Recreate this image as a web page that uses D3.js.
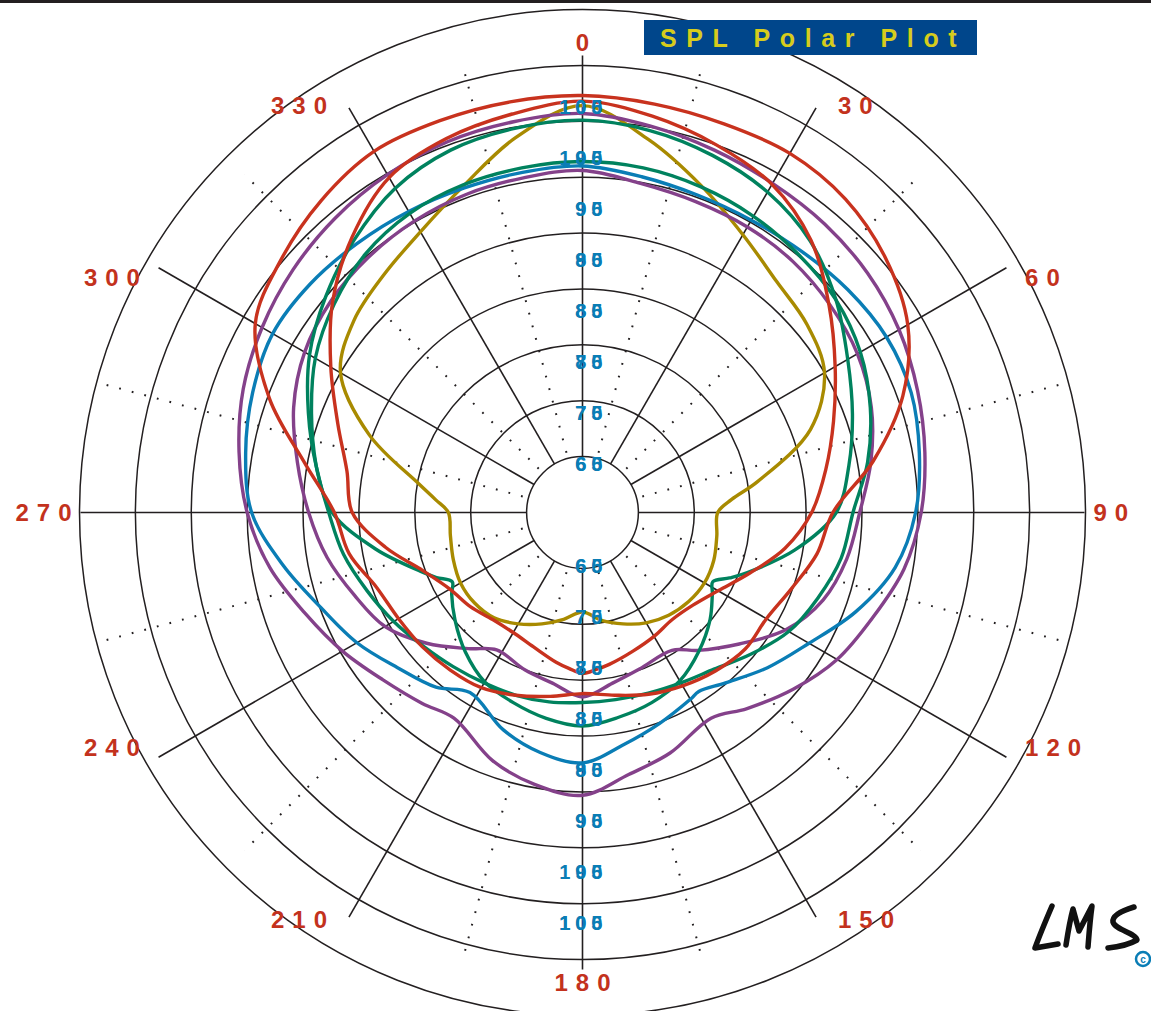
<!DOCTYPE html>
<html>
<head>
<meta charset="utf-8">
<script src="https://cdn.jsdelivr.net/npm/d3@7"></script>
<style>
  body { margin: 0; background: #fff; }
  svg { display: block; font-family: "Liberation Sans", Arial, sans-serif; }
</style>
</head>
<body>
<div id="chart"></div>
<script>
// Angle labels (degrees, clockwise from top)
const angleTicks = [0, 30, 60, 90, 120, 150, 180, 210, 240, 270, 300, 330];
// Dotted spokes between the labelled ones
const minorAngles = [15, 45, 75, 105, 135, 165, 195, 225, 255, 285, 315, 345];
// Ring levels (dB)
const ringLevels = [60, 65, 70, 75, 80, 85, 90, 95, 100];
// Ring labels, two overlapping sets as printed
const ringLabelsA = ['60', '70', '75', '80', '85', '90', '100', '105'];
const ringLabelsB = ['65', '75', '80', '85', '90', '95', '95', '100'];

// Series: [angle, SPL dB]
const gold = [[0,91.4],[10,88.9],[20,86.1],[30,83.7],[40,82.0],[50,81.2],[60,80.0],[70,76.7],[80,70.9],[85,68.4],[90,67.1],
  [100,67.2],[110,67.5],[120,67.6],[130,67.4],[140,67.0],[150,66.4],[160,65.6],[170,64.8],[180,63.9],[190,64.7],
  [200,65.6],[210,66.5],[220,67.3],[230,67.6],[240,67.6],[250,67.3],[260,67.0],[270,67.0],[275,68.2],[280,69.9],
  [290,75.3],[300,80.0],[310,81.7],[320,82.7],[330,84.0],[340,86.1],[350,89.1]];
const redA = [[0,92.3],[10,92.1],[20,92.0],[30,92.1],[40,91.6],[50,90.4],[60,88.6],[70,85.5],[80,81.4],[90,77.4],
  [100,76.3],[110,74.9],[120,74.0],[130,74.0],[140,73.5],[150,72.9],[160,72.3],[170,71.6],[180,71.2],[190,71.7],
  [200,72.4],[210,73.1],[220,73.4],[230,73.7],[240,74.0],[250,74.6],[260,76.2],[270,77.2],[280,80.2],[290,84.8],
  [300,88.8],[310,90.2],[320,91.4],[330,92.3],[340,92.3],[350,92.3]];
const redB = [[0,91.8],[10,91.0],[20,90.0],[30,88.9],[40,86.8],[50,83.8],[60,81.1],[70,78.9],[80,77.1],[90,75.5],
  [100,73.4],[110,70.9],[120,69.0],[130,67.9],[140,67.5],[150,67.8],[160,68.2],[170,68.8],[175,69.1],[180,69.4],
  [185,69.0],[190,68.6],[200,67.8],[210,67.4],[220,67.5],[230,68.1],[240,68.7],[250,70.2],[260,72.9],[270,75.6],
  [280,76.4],[290,78.3],[300,81.0],[310,84.2],[320,87.1],[330,89.6],[340,90.6],[350,91.2]];
const greenA = [[0,90.1],[10,89.7],[20,89.0],[30,88.1],[40,86.7],[50,84.6],[60,82.4],[70,80.7],[80,79.2],[90,77.7],
  [100,74.3],[110,70.7],[114,69.4],[118,68.2],[122,68.7],[130,69.9],[140,71.2],[150,72.4],[160,73.1],[170,73.6],
  [180,74.1],[190,73.7],[200,73.1],[210,72.5],[220,71.3],[230,69.9],[238,68.8],[242,68.2],[246,69.3],[250,70.4],
  [260,73.8],[270,77.4],[280,79.2],[290,81.1],[300,83.2],[310,85.0],[320,86.8],[330,88.5],[340,89.5],[350,89.9]];
const greenB = [[0,86.4],[10,86.3],[20,86.0],[30,85.6],[40,85.1],[50,84.6],[60,83.7],[70,82.4],[80,80.9],[90,79.2],
  [100,78.5],[110,77.4],[120,76.3],[130,74.7],[140,73.3],[150,72.6],[160,72.2],[170,72.0],[180,72.0],[190,72.2],
  [200,72.4],[210,72.6],[220,73.0],[230,73.6],[240,74.5],[250,75.5],[260,76.7],[270,77.7],[280,79.2],[290,80.8],
  [300,82.6],[310,84.0],[320,85.2],[330,85.9],[340,86.2],[350,86.3]];
const blue = [[0,86.0],[10,85.5],[20,85.2],[30,85.2],[40,85.5],[50,86.0],[60,86.4],[70,86.3],[80,85.6],[90,84.8],
  [100,83.4],[110,81.0],[120,78.4],[130,76.6],[140,74.9],[147,74.1],[150,74.3],[160,75.1],[170,76.1],[180,77.4],
  [190,76.8],[200,75.7],[212,74.0],[220,75.4],[230,76.6],[240,78.3],[250,79.9],[260,82.2],[270,84.6],[280,85.6],
  [290,86.4],[300,87.0],[310,86.8],[320,86.4],[330,86.1],[340,85.9],[350,85.9]];
const purpleA = [[0,90.7],[10,90.1],[20,89.5],[30,89.0],[40,88.7],[50,88.3],[60,87.7],[70,86.9],[80,86.1],[90,85.3],
  [100,84.2],[110,82.6],[120,81.3],[130,79.6],[140,77.9],[148,76.7],[160,77.9],[170,78.8],[180,80.3],[190,79.7],
  [200,78.6],[212,76.7],[220,77.3],[230,78.3],[240,79.8],[250,81.4],[260,83.4],[270,85.0],[280,86.2],[290,87.3],
  [300,88.1],[310,88.8],[320,89.4],[330,89.9],[340,90.3],[350,90.5]];
const purpleB = [[0,85.6],[10,84.9],[20,84.6],[30,84.5],[40,84.3],[50,83.9],[60,83.4],[70,82.5],[80,81.2],[90,79.8],
  [100,79.0],[110,77.9],[120,76.0],[130,73.3],[140,71.1],[147,69.7],[160,69.9],[170,70.5],[180,71.5],[190,70.5],
  [200,70.0],[212,69.5],[220,70.9],[230,73.2],[240,75.4],[250,76.7],[260,78.2],[270,79.5],[280,80.9],[290,82.5],
  [300,83.7],[310,84.4],[320,84.8],[330,85.1],[340,85.3],[350,85.4]];

// Drawing order and colours
const seriesList = [
  { data: gold, color: '#a88a00' },
  { data: purpleB, color: '#84418a' },
  { data: blue, color: '#0a7db5' },
  { data: greenB, color: '#00825e' },
  { data: greenA, color: '#00825e' },
  { data: purpleA, color: '#84418a' },
  { data: redB, color: '#c8321e' },
  { data: redA, color: '#c8321e' }
];

const W = 1151, H = 1011;
const cx = 582.5, cy = 512.5;
const gridColor = '#231f20';
// spokes end on an ellipse, as in the original
const spokeRx = 502, spokeRy = 457;

const svg = d3.select('#chart').append('svg')
  .attr('width', W).attr('height', H);

svg.append('rect').attr('width', W).attr('height', H).attr('fill', '#fff');
svg.append('rect').attr('width', W).attr('height', 3).attr('fill', gridColor);

const g = svg.append('g').attr('transform', `translate(${cx},${cy})`);

const r = d3.scaleLinear().domain([55, 100]).range([0, 503]);
const rad = a => a * Math.PI / 180;

// distance to the ellipse along an angle
function spokeEnd(a) {
  const s = Math.sin(rad(a)), c = Math.cos(rad(a));
  return 1 / Math.sqrt((s / spokeRx) ** 2 + (c / spokeRy) ** 2);
}

// Rings
g.selectAll('circle.ring').data(ringLevels).enter().append('circle')
  .attr('class', 'ring')
  .attr('r', d => r(d))
  .attr('fill', 'none')
  .attr('stroke', gridColor)
  .attr('stroke-width', 1.5);

// Solid spokes
g.selectAll('line.spoke').data(angleTicks).enter().append('line')
  .attr('x1', d => r(60) * Math.sin(rad(d)))
  .attr('y1', d => -r(60) * Math.cos(rad(d)))
  .attr('x2', d => spokeEnd(d) * Math.sin(rad(d)))
  .attr('y2', d => -spokeEnd(d) * Math.cos(rad(d)))
  .attr('stroke', gridColor)
  .attr('stroke-width', 1.6);

// Dotted spokes
g.selectAll('line.minor').data(minorAngles).enter().append('line')
  .attr('x1', d => (r(60) + 6) * Math.sin(rad(d)))
  .attr('y1', d => -(r(60) + 6) * Math.cos(rad(d)))
  .attr('x2', d => spokeEnd(d) * Math.sin(rad(d)))
  .attr('y2', d => -spokeEnd(d) * Math.cos(rad(d)))
  .attr('stroke', gridColor)
  .attr('stroke-width', 2)
  .attr('stroke-dasharray', '1.8 11.2');

// Curves
const line = d3.lineRadial()
  .angle(d => rad(d[0]))
  .radius(d => r(d[1]))
  .curve(d3.curveCatmullRomClosed.alpha(0.5));

g.selectAll('path.series').data(seriesList).enter().append('path')
  .attr('d', d => line(d.data))
  .attr('fill', 'none')
  .attr('stroke', d => d.color)
  .attr('stroke-width', 3.4)
  .attr('stroke-linejoin', 'round');

// Ring labels (top and bottom of the vertical axis)
const labelR = d3.scaleLinear().domain([0, 8]).range([0, 408]);
const labelLS = 5;
[ringLabelsA, ringLabelsB].forEach(set => {
  [-1, 1].forEach(side => {
    g.selectAll(null).data(set).enter().append('text')
      .attr('x', 20 + labelLS)
      .attr('y', (d, i) => side * labelR(i + 1) + 2)
      .attr('text-anchor', 'end')
      .attr('dominant-baseline', 'central')
      .attr('font-size', 20)
      .attr('font-weight', 'bold')
      .attr('letter-spacing', labelLS)
      .attr('fill', '#0a7db5')
      .text(d => d);
  });
});

// Angle labels
const angLS = 8;
g.selectAll('text.ang').data(angleTicks).enter().append('text')
  .attr('class', 'ang')
  .attr('x', d => {
    const x = 511 * Math.sin(rad(d));
    if (d === 0 || d === 180) return angLS / 2;
    return d < 180 ? x : x + angLS;
  })
  .attr('y', d => -470 * Math.cos(rad(d)))
  .attr('text-anchor', d => (d === 0 || d === 180) ? 'middle' : (d < 180 ? 'start' : 'end'))
  .attr('dominant-baseline', 'central')
  .attr('font-size', 24)
  .attr('font-weight', 'bold')
  .attr('letter-spacing', angLS)
  .attr('fill', '#c3321d')
  .text(d => d);

// Title box
svg.append('rect')
  .attr('x', 644).attr('y', 20).attr('width', 333).attr('height', 35)
  .attr('fill', '#00468b');
svg.append('text')
  .attr('x', 660).attr('y', 38)
  .attr('dominant-baseline', 'central')
  .attr('font-size', 25)
  .attr('font-weight', 'bold')
  .attr('letter-spacing', 9.6)
  .attr('fill', '#d6cc1c')
  .text('SPL Polar Plot');

// LMS logo
const logo = svg.append('g')
  .attr('fill', 'none')
  .attr('stroke', '#111')
  .attr('stroke-width', 5.5)
  .attr('stroke-linecap', 'round')
  .attr('stroke-linejoin', 'round');
logo.append('path').attr('d', 'M1052,906 C1046,920 1040,934 1035,948 L1058,944');
logo.append('path').attr('d', 'M1066,945 C1068,932 1070,920 1073,909 L1079,931 L1092,906 C1090,920 1089,934 1088,947');
logo.append('path').attr('d', 'M1134,907 C1124,910 1112,915 1113,922 C1115,930 1136,933 1137,940 C1130,944 1118,947 1108,948');
svg.append('circle').attr('cx', 1143).attr('cy', 959).attr('r', 7)
  .attr('fill', 'none').attr('stroke', '#0a7db5').attr('stroke-width', 2.5);
svg.append('text').attr('x', 1143).attr('y', 959.5)
  .attr('text-anchor', 'middle').attr('dominant-baseline', 'central')
  .attr('font-size', 10).attr('font-weight', 'bold').attr('fill', '#0a7db5')
  .text('c');
</script>
</body>
</html>
